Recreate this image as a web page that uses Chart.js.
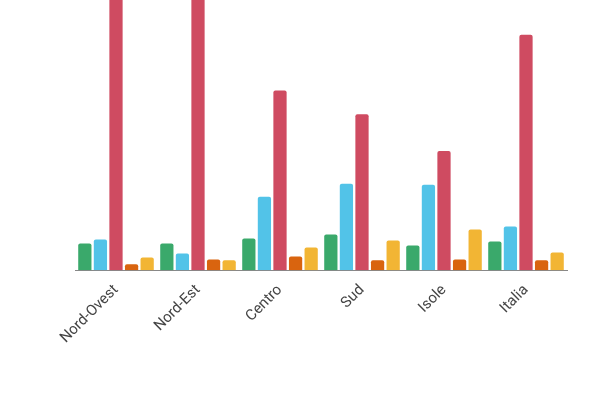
<!DOCTYPE html><html><head><script src="https://cdn.jsdelivr.net/npm/chart.js"></script>
<style>body{margin:0}#w{width:600px;height:400px}</style></head><body><div id="w"><canvas id="c"></canvas></div>
<script>
const categories=["Nord-Ovest","Nord-Est","Centro","Sud","Isole","Italia"];
const s1=[27,27,32,36,25,29];
const s2=[31,17,74,87,86,44];
const s3=[320,320,181,157,120,237];
const s4=[6,11,14,10,11,10];
const s5=[13,10,23,30,41,18];
const names=["Serie 1","Serie 2","Serie 3","Serie 4","Serie 5"];
const colors=["#3aa96b","#52c3e8","#cf4b61","#d9640f","#f2b534"];
const data=[s1,s2,s3,s4,s5];
new Chart(document.getElementById('c'),{type:'bar',
data:{labels:categories,datasets:data.map((d,i)=>({label:names[i],data:d,backgroundColor:colors[i],borderRadius:2,categoryPercentage:0.95,barPercentage:0.85}))},
options:{responsive:true,maintainAspectRatio:false,animation:false,
layout:{padding:{left:75,right:33,top:0,bottom:50}},
plugins:{legend:{display:false},tooltip:{enabled:false}},
scales:{y:{display:false,min:0,max:272},
x:{grid:{display:false},border:{color:'#888'},ticks:{color:'#444',font:{size:15,family:'Roboto'},maxRotation:45,minRotation:45}}}}});
</script></body></html>
